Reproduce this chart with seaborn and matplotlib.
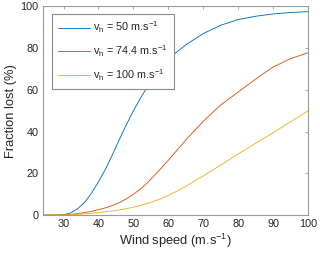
import numpy as np
import pandas as pd
import matplotlib
matplotlib.use("Agg")
import matplotlib.pyplot as plt
import seaborn as sns

# ─────────────────────────────────────────────
# Data
# ─────────────────────────────────────────────
wind = [24, 28, 30, 32, 34, 36, 38, 40, 42, 44, 46, 48, 50, 52, 54, 56, 58,
        60, 62, 65, 70, 75, 80, 85, 90, 95, 100]

lost_50 = [0, 0, 0.2, 1, 3, 6, 10.5, 16, 22, 29, 36.3, 43.4, 50, 56, 61.5,
           66.5, 70.8, 74.5, 77.6, 81.6, 87, 91, 93.7, 95.3, 96.4, 97.1, 97.5]
lost_74 = [0, 0, 0.1, 0.3, 0.7, 1.2, 1.8, 2.6, 3.5, 4.6, 6, 7.8, 10, 12.5,
           15.5, 19, 22.6, 26.3, 30.2, 36, 45, 52.8, 59, 65.2, 71, 75, 77.8]
lost_100 = [0, 0, 0.1, 0.2, 0.4, 0.6, 0.9, 1.2, 1.6, 2, 2.5, 3.1, 3.8, 4.6,
            5.6, 6.7, 8, 9.5, 11.1, 13.8, 18.8, 24, 29.3, 34.5, 39.5, 44.8, 50]

labels = [r"v$_\mathregular{h}$ = 50 m.s$^\mathregular{-1}$",
          r"v$_\mathregular{h}$ = 74.4 m.s$^\mathregular{-1}$",
          r"v$_\mathregular{h}$ = 100 m.s$^\mathregular{-1}$"]
colors = ["#0072BD", "#D95319", "#EDB120"]

x_ticks = [30, 40, 50, 60, 70, 80, 90, 100]
y_ticks = [0, 20, 40, 60, 80, 100]

df = pd.DataFrame({
    "wind": wind * 3,
    "lost": lost_50 + lost_74 + lost_100,
    "series": [labels[0]] * len(wind) + [labels[1]] * len(wind) + [labels[2]] * len(wind),
})

# ─────────────────────────────────────────────
# Style
# ─────────────────────────────────────────────
sns.set_theme(style="white")
plt.rcParams["font.family"] = ["Liberation Sans", "DejaVu Sans"]
plt.rcParams["mathtext.fontset"] = "custom"
plt.rcParams["mathtext.rm"] = "Liberation Sans"
plt.rcParams["mathtext.it"] = "Liberation Sans"

fig = plt.figure(figsize=(3.2, 2.57), dpi=100)
ax = fig.add_axes([0.133, 0.163, 0.830, 0.812])

sns.lineplot(data=df, x="wind", y="lost", hue="series", palette=colors,
             linewidth=0.65, ax=ax, legend=True)

ax.set_xlim(24, 100)
ax.set_ylim(0, 100)
ax.set_xticks(x_ticks)
ax.set_yticks(y_ticks)
ax.set_xlabel("Wind speed (m.s$^\\mathregular{-1}$)", fontsize=9.3, color="#262626", labelpad=2)
ax.set_ylabel("Fraction lost (%)", fontsize=9.3, color="#262626", labelpad=2)

for s in ax.spines.values():
    s.set_color("#9a9a9a")
    s.set_linewidth(0.8)
ax.tick_params(axis="both", which="both", direction="in", length=2.5, width=0.6,
               colors="#9a9a9a", labelcolor="#262626", labelsize=7.8,
               top=True, right=True, pad=3)

leg = ax.legend(loc="upper left", bbox_to_anchor=(0.035, 0.965), borderaxespad=0,
                fontsize=7.8, frameon=True, fancybox=False, framealpha=1,
                edgecolor="#8a8a8a", handlelength=3.0, handletextpad=0.25,
                labelspacing=0.75, borderpad=0.55)
leg.get_frame().set_linewidth(0.8)

fig.savefig("out.png", dpi=100)
